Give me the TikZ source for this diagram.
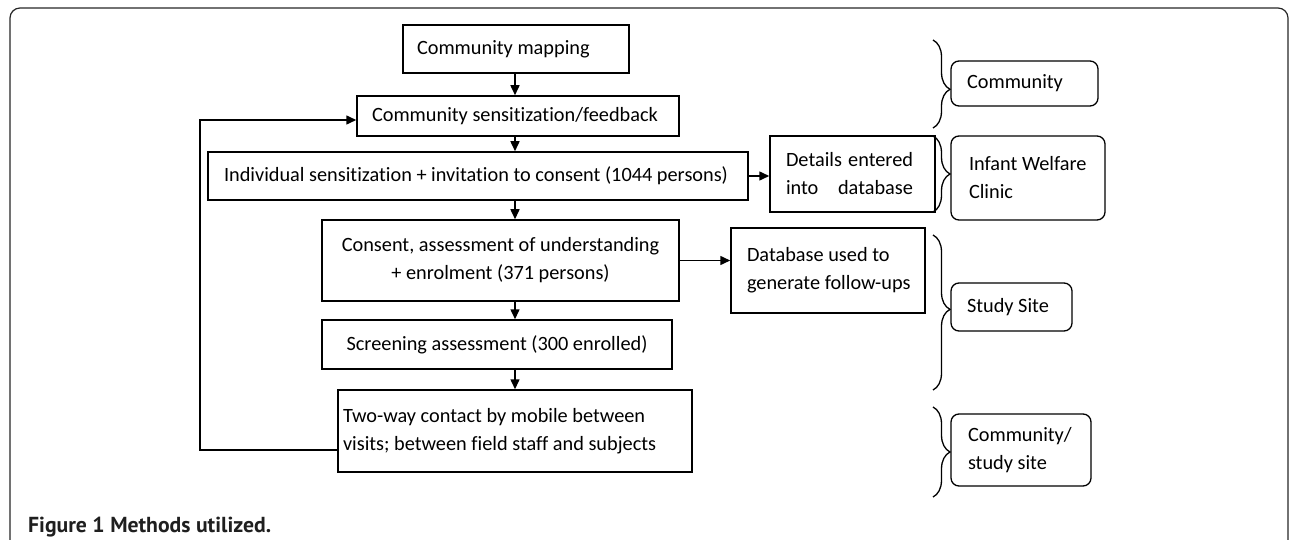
\documentclass[tikz,border=0pt]{standalone}
\usepackage{fontspec}
\setmainfont{Carlito}[Ligatures=NoCommon]
\newfontfamily\capfont{PT Sans}
\usetikzlibrary{arrows.meta,decorations.pathreplacing}
\hbadness=10000 \hfuzz=50pt
\begin{document}
\begin{tikzpicture}[x=1pt,y=-1pt,
  txt/.style={font=\fontsize{20.3}{28}\selectfont},
  box/.style={txt, draw, line width=1.5pt, inner ysep=0pt, minimum height=#1},
  lbox/.style 2 args={box=#1, align=flush left, text width=#2},
  tag/.style 2 args={txt, draw, line width=1.3pt, rounded corners=8pt, inner ysep=0pt,
    minimum height=#1, align=flush left, text width=#2},
  flow/.style={line width=1.5pt, -{Triangle[length=10pt,width=9pt]}},
  brc/.style={decorate, decoration={brace, amplitude=17pt, aspect=#1}, line width=1.3pt},
  brc/.default=0.5]

\useasboundingbox (0,0) rectangle (1290,540);

% outer panel frame, running off the bottom edge
\begin{scope}
  \clip (0,0) rectangle (1290,540);
  \draw[line width=1.2pt, draw=black!85, rounded corners=10pt] (10,8) rectangle (1288,570);
\end{scope}

% main flow
\node[lbox={48pt}{198pt}, inner xsep=14pt] (map)     at (516,49)    {\mbox{Community mapping}};
\node[lbox={40pt}{292pt}, inner xsep=15pt] (sens)    at (518,116)   {\mbox{Community sensitization/feedback}};
\node[lbox={48pt}{508pt}, inner xsep=16pt] (indiv)   at (478,176)
  {\mbox{Individual sensitization + invitation to consent (1044 persons)}};
\node[box={81pt}, minimum width=357pt, align=center] (consent) at (500.5,260.5)
  {Consent, assessment of understanding\\+ enrolment (371 persons)};
\node[box={49pt}, minimum width=350pt] (screen)  at (497,344.5)  {Screening assessment (300 enrolled)};
\node[lbox={82pt}{344pt}, inner xsep=5pt] (twoway)  at (515,431)
  {\mbox{Two-way contact by mobile between}\\\mbox{visits; between field staff and subjects}\par\vspace{6pt}};

% side boxes
\node[lbox={76pt}{133pt}, inner xsep=16pt] (details) at (852.5,174)
  {\makebox[127pt][s]{Details entered}\\\makebox[127pt][s]{into database}};
\node[lbox={85pt}{162pt}, inner xsep=16pt] (dbuse)   at (828,270.5)
  {\mbox{Database used to}\\\mbox{generate follow-ups}\par\vspace{14pt}};

% location tags
\node[tag={45pt}{115pt}, inner xsep=16pt] (comm)     at (1024.5,83.5) {\mbox{Community}};
\node[tag={84pt}{118pt}, inner xsep=18pt] (iwc)      at (1028,178)    {\mbox{Infant Welfare}\\Clinic\par\vspace{4pt}};
\node[tag={48pt}{89pt},  inner xsep=16pt] (site)     at (1011.5,307)  {\mbox{Study Site}};
\node[tag={72pt}{106pt}, inner xsep=17pt] (commsite) at (1021,450)    {\mbox{Community/}\\\mbox{study site}};

% braces grouping the steps by location
\draw[brc=0.56] (933,40)  -- (933,128);
\draw[brc]      (933,136) -- (933,212);
\draw[brc=0.48] (933,235) -- (933,390);
\draw[brc]      (933,407) -- (933,497);

% arrows
\coordinate (ax) at (515,0);
\draw[flow] (map.south -| ax)     -- (sens.north -| ax);
\draw[flow] (sens.south -| ax)    -- (indiv.north -| ax);
\draw[flow] (indiv.south -| ax)   -- (consent.north -| ax);
\draw[flow] (consent.south -| ax) -- (screen.north -| ax);
\draw[flow] (screen.south -| ax)  -- (twoway.north -| ax);
\draw[flow] (indiv.east)   -- (indiv.east -| details.west);
\draw[flow] (consent.east) -- (consent.east -| dbuse.west);

% feedback loop back to sensitization
\coordinate (lb) at (200,450);
\coordinate (lt) at (200,120);
\draw[flow] (twoway.west |- lb) -- (lb) -- (lt) -- (sens.west |- lt);

% caption
\node[anchor=base west, inner sep=0pt, font=\capfont\bfseries\fontsize{21.7}{24}\selectfont,
  text=black!88] (cap) at (28,532) {Figure 1 Methods utilized.};
\end{tikzpicture}
\end{document}
